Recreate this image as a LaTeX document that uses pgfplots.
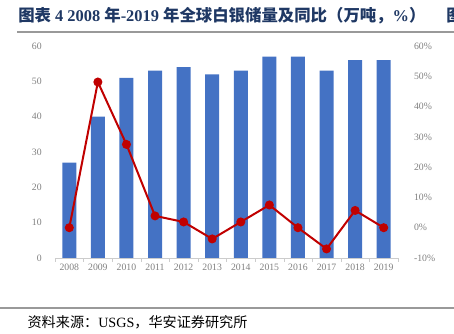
\documentclass[border=0pt]{standalone}
\usepackage{pgfplots}
\pgfplotsset{compat=1.18}
\usepackage{fontspec}
\setmainfont{Liberation Serif}
\newfontfamily\cjk{Noto Sans CJK SC}
\definecolor{barblue}{HTML}{4472C4}
\definecolor{linered}{HTML}{C00000}
\definecolor{ticgray}{HTML}{808080}
\definecolor{titleblue}{HTML}{1F3864}
\begin{document}
\begin{tikzpicture}
\path[use as bounding box] (0pt,0pt) rectangle (340.5pt,250.5pt);
% title
\node[anchor=west,inner sep=0,text=titleblue,font=\fontsize{12.3}{14}\selectfont\bfseries] at (13.5pt,239pt)
 {{\cjk 图表} 4 2008 {\cjk 年}-2019 {\cjk 年全球白银储量及同比（万吨，}\%{\cjk ）}};
\node[anchor=west,inner sep=0,text=titleblue,font=\fontsize{12.3}{14}\selectfont\bfseries\cjk] at (334.5pt,239pt) {图};
\draw[line width=1.5pt,color=gray!80] (12.75pt,226.5pt) -- (340.5pt,226.5pt);
\draw[line width=1pt,color=gray!80] (0pt,19.5pt) -- (340.5pt,19.5pt);
\node[anchor=west,inner sep=0,font=\fontsize{10.6}{12}\selectfont] at (20.5pt,9pt)
 {{\cjk 资料来源：}USGS{\cjk ，华安证券研究所}};
\begin{axis}[
  at={(41.25pt,57pt)}, anchor=south west, scale only axis,
  width=257.25pt, height=159pt,
  xmin=-0.5, xmax=11.5, ymin=0, ymax=60,
  xtick={0,...,11},
  xticklabels={2008,2009,2010,2011,2012,2013,2014,2015,2016,2017,2018,2019},
  extra x ticks={-0.5,0.5,...,11.5}, extra x tick labels={},
  extra x tick style={major tick length=3pt, tick style={draw=gray!40}, tick align=outside},
  ytick={0,10,...,60},
  major tick length=0pt,
  axis line style={draw=none},
  axis x line*=bottom, axis y line*=left,
  tick label style={font=\fontsize{7.3}{8}\selectfont, text=ticgray},
  /pgf/number format/assume math mode=true,
  yticklabel style={xshift=-6.5pt},
  xticklabel style={yshift=-1pt},
  clip=false,
]
\draw[gray!40] (axis cs:-0.5,0) -- (axis cs:11.5,0);
\addplot[ybar, bar width=10.5pt, fill=barblue, draw=none] coordinates {
 (0,27) (1,40) (2,51) (3,53) (4,54) (5,52) (6,53) (7,57) (8,57) (9,53) (10,56) (11,56)};
\end{axis}
\begin{axis}[
  at={(41.25pt,57pt)}, anchor=south west, scale only axis,
  width=257.25pt, height=159pt,
  xmin=-0.5, xmax=11.5, ymin=-10, ymax=60,
  axis x line=none, axis y line*=right,
  axis line style={draw=none},
  ytick={-10,0,...,60},
  yticklabel={\pgfmathprintnumber{\tick}\%},
  major tick length=0pt,
  tick label style={font=\fontsize{7.3}{8}\selectfont, text=ticgray},
  /pgf/number format/assume math mode=true,
  yticklabel style={xshift=8.5pt},
  clip=false,
]
\addplot[color=linered, line width=1.5pt, mark=*, mark size=2.6pt, mark options={fill=linered}] coordinates {
 (0,0) (1,48.1) (2,27.5) (3,3.9) (4,1.9) (5,-3.7) (6,1.9) (7,7.5) (8,0) (9,-7.0) (10,5.7) (11,0)};
\end{axis}
\end{tikzpicture}
\end{document}
